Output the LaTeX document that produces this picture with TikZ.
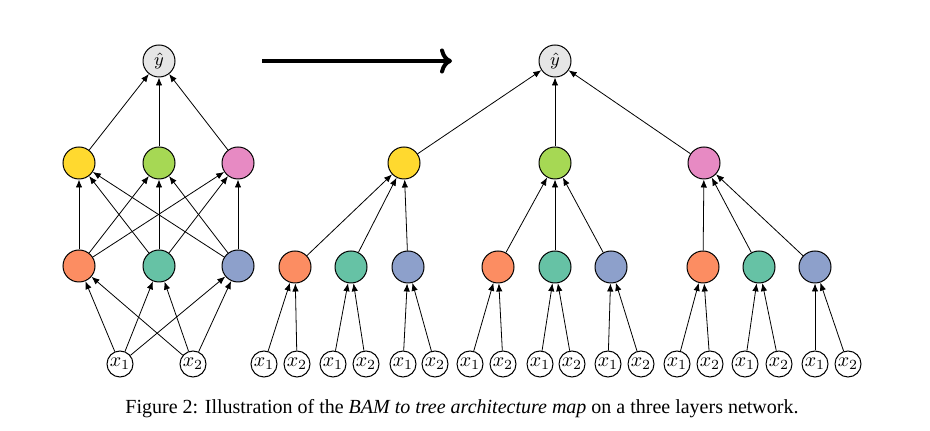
\documentclass[tikz,border=0pt]{standalone}
\usepackage{amsmath}
\usepackage{fontspec}
\newfontfamily\captionfont{Liberation Serif}
\usepackage{xcolor}
\usetikzlibrary{positioning, arrows.meta}

\definecolor{cyellow}{HTML}{FFD92F}
\definecolor{cgreen}{HTML}{A6D854}
\definecolor{cpink}{HTML}{E78AC3}
\definecolor{corange}{HTML}{FC8D62}
\definecolor{cteal}{HTML}{66C2A5}
\definecolor{cblue}{HTML}{8DA0CB}
\definecolor{cout}{HTML}{E6E6E6}

\begin{document}
\begin{tikzpicture}[
    x=0.5pt, y=-0.5pt,
    unit/.style={draw, circle, line width=0.5pt, minimum size=16pt, inner sep=0pt},
    outunit/.style={unit, fill=cout, font=\small},
    inunit/.style={draw, circle, line width=0.5pt, minimum size=13pt, inner sep=0pt},
    edge/.style={-{Latex[length=4pt, width=3.2pt]}, line width=0.4pt},
    maparr/.style={-{Computer Modern Rightarrow}, line width=2pt},
]
\useasboundingbox (0,0) rectangle (930,431);

% --- Left: fully connected network ---
\node[outunit] (ly) at (159, 61) {$\hat{y}$};
\node[unit, fill=cyellow] (lh1) at (79, 163) {};
\node[unit, fill=cgreen] (lh2) at (159, 163) {};
\node[unit, fill=cpink] (lh3) at (238, 163) {};
\node[unit, fill=corange] (lg1) at (79, 266) {};
\node[unit, fill=cteal] (lg2) at (159, 266) {};
\node[unit, fill=cblue] (lg3) at (238, 266) {};
\node[inunit] (lx1) at (120, 364) {$x_1$};
\node[inunit] (lx2) at (193, 364) {$x_2$};

% inputs -> first layer
\draw[edge] (lx1) -- (lg1);
\draw[edge] (lx1) -- (lg2);
\draw[edge] (lx1) -- (lg3);
\draw[edge] (lx2) -- (lg1);
\draw[edge] (lx2) -- (lg2);
\draw[edge] (lx2) -- (lg3);

% first layer -> second layer
\draw[edge] (lg1) -- (lh1);
\draw[edge] (lg1) -- (lh2);
\draw[edge] (lg1) -- (lh3);
\draw[edge] (lg2) -- (lh1);
\draw[edge] (lg2) -- (lh2);
\draw[edge] (lg2) -- (lh3);
\draw[edge] (lg3) -- (lh1);
\draw[edge] (lg3) -- (lh2);
\draw[edge] (lg3) -- (lh3);

% second layer -> output
\draw[edge] (lh1) -- (ly);
\draw[edge] (lh2) -- (ly);
\draw[edge] (lh3) -- (ly);

% --- Map arrow ---
\coordinate (mapS) at (262, 61);
\coordinate (mapE) at (452, 61);
\draw[maparr] (mapS) -- (mapE);

% --- Right: tree network ---
\node[outunit] (ry) at (555, 61) {$\hat{y}$};
\node[unit, fill=cyellow] (rh1) at (404, 163) {};
\node[unit, fill=cgreen] (rh2) at (555, 163) {};
\node[unit, fill=cpink] (rh3) at (704, 163) {};

\draw[edge] (rh1) -- (ry);
\draw[edge] (rh2) -- (ry);
\draw[edge] (rh3) -- (ry);

% first layer, one copy per second layer unit
\node[unit, fill=corange] (A1) at (295, 267) {};
\node[unit, fill=cteal] (A2) at (351, 267) {};
\node[unit, fill=cblue] (A3) at (408, 267) {};
\node[unit, fill=corange] (B1) at (498, 267) {};
\node[unit, fill=cteal] (B2) at (555, 267) {};
\node[unit, fill=cblue] (B3) at (611, 267) {};
\node[unit, fill=corange] (C1) at (703, 267) {};
\node[unit, fill=cteal] (C2) at (759, 267) {};
\node[unit, fill=cblue] (C3) at (815, 267) {};

\draw[edge] (A1) -- (rh1);
\draw[edge] (A2) -- (rh1);
\draw[edge] (A3) -- (rh1);
\draw[edge] (B1) -- (rh2);
\draw[edge] (B2) -- (rh2);
\draw[edge] (B3) -- (rh2);
\draw[edge] (C1) -- (rh3);
\draw[edge] (C2) -- (rh3);
\draw[edge] (C3) -- (rh3);

% inputs, one pair per first layer unit
\node[inunit] (A1a) at (264, 364) {$x_1$};
\node[inunit] (A1b) at (297, 364) {$x_2$};
\node[inunit] (A2a) at (333, 364) {$x_1$};
\node[inunit] (A2b) at (366, 364) {$x_2$};
\node[inunit] (A3a) at (403, 364) {$x_1$};
\node[inunit] (A3b) at (435, 364) {$x_2$};
\node[inunit] (B1a) at (470, 364) {$x_1$};
\node[inunit] (B1b) at (503, 364) {$x_2$};
\node[inunit] (B2a) at (540, 364) {$x_1$};
\node[inunit] (B2b) at (572, 364) {$x_2$};
\node[inunit] (B3a) at (608, 364) {$x_1$};
\node[inunit] (B3b) at (641, 364) {$x_2$};
\node[inunit] (C1a) at (677, 364) {$x_1$};
\node[inunit] (C1b) at (710, 364) {$x_2$};
\node[inunit] (C2a) at (745, 364) {$x_1$};
\node[inunit] (C2b) at (779, 364) {$x_2$};
\node[inunit] (C3a) at (815, 364) {$x_1$};
\node[inunit] (C3b) at (848, 364) {$x_2$};

\draw[edge] (A1a) -- (A1); \draw[edge] (A1b) -- (A1);
\draw[edge] (A2a) -- (A2); \draw[edge] (A2b) -- (A2);
\draw[edge] (A3a) -- (A3); \draw[edge] (A3b) -- (A3);
\draw[edge] (B1a) -- (B1); \draw[edge] (B1b) -- (B1);
\draw[edge] (B2a) -- (B2); \draw[edge] (B2b) -- (B2);
\draw[edge] (B3a) -- (B3); \draw[edge] (B3b) -- (B3);
\draw[edge] (C1a) -- (C1); \draw[edge] (C1b) -- (C1);
\draw[edge] (C2a) -- (C2); \draw[edge] (C2b) -- (C2);
\draw[edge] (C3a) -- (C3); \draw[edge] (C3b) -- (C3);

% --- Caption ---
\node[font=\captionfont] (cap) at (462, 409) {Figure 2: Illustration of the \textit{BAM to tree architecture map} on a three layers network.};

\end{tikzpicture}
\end{document}
